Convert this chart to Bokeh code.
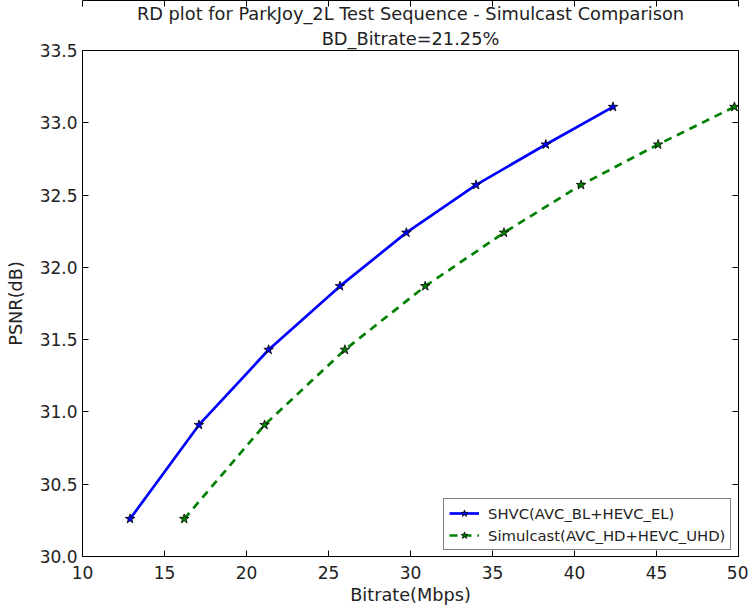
from bokeh.plotting import figure
from bokeh.models import Title, LinearAxis, Range1d, Legend, LegendItem, FixedTicker
from bokeh.embed import file_html
from bokeh.resources import INLINE

psnr = [30.26, 30.91, 31.43, 31.87, 32.24, 32.57, 32.85, 33.11]
shvc_bitrate = [12.9, 17.1, 21.35, 25.7, 29.75, 34.0, 38.25, 42.35]
simulcast_bitrate = [16.2, 21.1, 26.0, 30.9, 35.7, 40.4, 45.1, 49.75]
x_ticks = [10, 15, 20, 25, 30, 35, 40, 45, 50]
y_ticks = [30.0, 30.5, 31.0, 31.5, 32.0, 32.5, 33.0, 33.5]

FONT = "DejaVu Sans"

p = figure(width=748, height=612, output_backend="svg", toolbar_location=None,
           x_range=Range1d(10, 50), y_range=Range1d(30, 33.5),
           min_border_left=82, min_border_right=10, min_border_top=50, min_border_bottom=56)
p.title = None
p.grid.visible = False
p.outline_line_color = "black"
p.outline_line_width = 1
p.background_fill_color = "white"
p.border_fill_color = "white"

t2 = Title(text="BD_Bitrate=21.25%", align="center", text_font=FONT, text_font_size="17.8px",
           text_font_style="normal", text_color="#222222", standoff=4, offset=0)
t1 = Title(text="RD plot for ParkJoy_2L Test Sequence - Simulcast Comparison", align="center",
           text_font=FONT, text_font_size="17.8px", text_font_style="normal", text_color="#222222",
           standoff=0, offset=0)
p.add_layout(t2, "above")
p.add_layout(t1, "above")

l1 = p.line(shvc_bitrate, psnr, line_color="blue", line_width=2.7)
m1 = p.scatter(shvc_bitrate, psnr, marker="star", size=10, fill_color="blue", line_color="black", line_width=0.8)
l2 = p.line(simulcast_bitrate, psnr, line_color="green", line_width=2.7, line_dash="8 6")
m2 = p.scatter(simulcast_bitrate, psnr, marker="star", size=10, fill_color="green", line_color="black", line_width=0.8)

def style_axis(ax, labels=True):
    ax.major_tick_in = 6
    ax.major_tick_out = 0
    ax.minor_tick_in = 0
    ax.minor_tick_out = 0
    ax.axis_line_color = "black"
    ax.major_tick_line_color = "black"
    ax.major_label_text_font = FONT
    ax.major_label_text_font_size = "17px"
    ax.major_label_text_color = "#222222"
    ax.axis_label_text_font = FONT
    ax.axis_label_text_font_size = "17.7px"
    ax.axis_label_text_font_style = "normal"
    ax.axis_label_text_color = "#222222"
    if not labels:
        ax.major_label_text_font_size = "0px"
        ax.major_label_text_color = None

p.xaxis.ticker = FixedTicker(ticks=x_ticks)
p.yaxis.ticker = FixedTicker(ticks=y_ticks)
p.xaxis.axis_label = "Bitrate(Mbps)"
p.yaxis.axis_label = "PSNR(dB)"
p.xaxis.major_label_overrides = {v: str(v) for v in x_ticks}
p.yaxis.major_label_overrides = {v: f"{v:.1f}" for v in y_ticks}
style_axis(p.xaxis[0])
style_axis(p.yaxis[0])
p.xaxis.axis_label_standoff = 3
p.yaxis.axis_label_standoff = 11
p.xaxis.major_label_standoff = 9
p.yaxis.major_label_standoff = 5

top = LinearAxis(ticker=FixedTicker(ticks=x_ticks))
right = LinearAxis(ticker=FixedTicker(ticks=y_ticks))
style_axis(top, labels=False)
style_axis(right, labels=False)
top.major_label_standoff = 0
right.major_label_standoff = 0
p.add_layout(top, "above")
p.add_layout(right, "right")

legend = Legend(items=[
    LegendItem(label="SHVC(AVC_BL+HEVC_EL)", renderers=[l1, m1]),
    LegendItem(label="Simulcast(AVC_HD+HEVC_UHD)", renderers=[l2, m2]),
], location=(361, 6))
legend.label_text_font = FONT
legend.label_text_font_size = "14.8px"
legend.label_text_color = "#222222"
legend.border_line_color = "black"
legend.border_line_width = 1
legend.background_fill_alpha = 1
legend.glyph_width = 30
legend.glyph_height = 18
legend.label_height = 18
legend.spacing = 4
legend.padding = 5
legend.margin = 0
legend.label_standoff = 9
p.add_layout(legend, "center")

open("out.html", "w").write(file_html(p, INLINE))
